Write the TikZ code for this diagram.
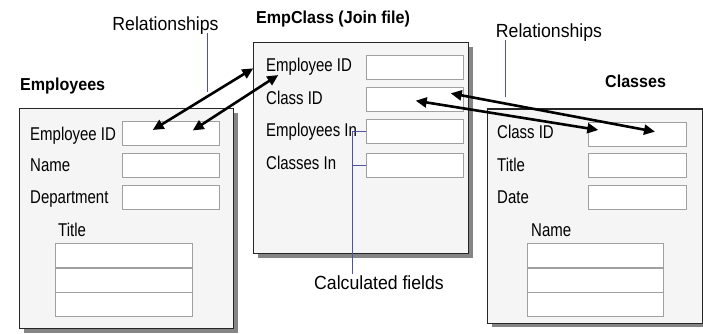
\documentclass[tikz,border=0pt]{standalone}
\usepackage{fontspec}
\setmainfont{Liberation Sans}[FakeStretch=0.81]
\newfontfamily\annfont{Liberation Sans}[FakeStretch=0.93]
\newfontfamily\headfont{Liberation Sans}[FakeStretch=0.93]
\usetikzlibrary{shadows,arrows.meta}
\definecolor{panelfill}{HTML}{F5F5F5}
\definecolor{shadowgray}{HTML}{858585}
\definecolor{fieldline}{HTML}{A0A0A0}
\definecolor{callout}{RGB}{80,80,165}
\begin{document}
\begin{tikzpicture}[x=1pt,y=-1pt,
  panel/.style={draw=black!85,line width=1.1pt,fill=panelfill,anchor=north west,inner sep=0,
    drop shadow={shadow xshift=4pt,shadow yshift=-4pt,fill=shadowgray,opacity=1}},
  field/.style={draw=fieldline,line width=0.9pt,fill=white,anchor=north west,inner sep=0,minimum height=24pt},
  lbl/.style={anchor=base west,inner sep=0,font=\fontsize{18.5}{20}\selectfont},
  head/.style={anchor=base west,inner sep=0,font=\fontsize{17.3}{20}\selectfont\headfont\bfseries},
  ann/.style={anchor=base,inner sep=0,font=\fontsize{19}{20}\selectfont\annfont},
  rel/.style={line width=2.6pt,{Triangle[length=11pt,width=10pt]}-{Triangle[length=11pt,width=10pt]}},
  cline/.style={draw=callout,line width=0.9pt}]
\useasboundingbox (0,0) rectangle (703,334);

% ---------- Employees ----------
\node[head] (emph) at (20,91) {Employees};
\node[panel,minimum width=214pt,minimum height=220pt] (emp) at (19,108) {};
\node[lbl] (l1) at (30,140) {Employee ID};
\node[field,minimum width=97pt] (e1) at (122,121) {};
\node[lbl] (l2) at (30,171.5) {Name};
\node[field,minimum width=97pt] (e2) at (122,153) {};
\node[lbl] (l3) at (30,203.5) {Department};
\node[field,minimum width=97pt] (e3) at (122,185) {};
\node[lbl] (l4) at (58,236) {Title};
\node[field,minimum width=137pt] (t1) at (55,243) {};
\node[field,minimum width=137pt] (t2) at (55,267.5) {};
\node[field,minimum width=137pt] (t3) at (55,291.5) {};

% ---------- EmpClass ----------
\node[head] (jh) at (256,24) {EmpClass (Join file)};
\node[panel,minimum width=215pt,minimum height=211pt] (join) at (253,42) {};
\node[lbl] (j1l) at (266,72) {Employee ID};
\node[field,minimum width=97pt] (j1) at (366,55) {};
\node[lbl] (j2l) at (266,104) {Class ID};
\node[field,minimum width=97pt] (j2) at (366,87) {};
\node[lbl] (j3l) at (266,136) {Employees In};
\node[field,minimum width=97pt] (j3) at (366,119) {};
\node[lbl] (j4l) at (266,169) {Classes In};
\node[field,minimum width=97pt] (j4) at (366,153) {};

% ---------- Classes ----------
\node[head] (ch) at (605,87.5) {Classes};
\node[panel,minimum width=215pt,minimum height=214pt] (cls) at (487,108.5) {};
\node[lbl] (c1l) at (497,138.5) {Class ID};
\node[field,minimum width=98pt] (c1) at (588,122) {};
\node[lbl] (c2l) at (497,171.5) {Title};
\node[field,minimum width=98pt] (c2) at (588,153) {};
\node[lbl] (c3l) at (497,203) {Date};
\node[field,minimum width=98pt] (c3) at (588,185) {};
\node[lbl] (c4l) at (531,236) {Name};
\node[field,minimum width=136pt] (n1) at (527,243) {};
\node[field,minimum width=136pt] (n2) at (527,267.5) {};
\node[field,minimum width=136pt] (n3) at (527,291.5) {};

% ---------- annotations ----------
\node[ann] (relL) at (165.5,31) {Relationships};
\node[ann] (relR) at (549,37.5) {Relationships};
\node[ann] (calc) at (379,289.5) {Calculated fields};
\coordinate (relLa) at (207,33);
\coordinate (relLb) at (207,92);
\coordinate (relRa) at (505,40);
\coordinate (relRb) at (505,97);
\draw[cline] (relLa) -- (relLb);
\draw[cline] (relRa) -- (relRb);
\coordinate (cf) at (352,274);
\draw[cline] (cf) |- (j3.west);
\draw[cline] (j4.west) -- (j4.west -| cf);

% ---------- relationship arrows ----------
\coordinate (a1s) at (152.7,130);
\coordinate (a1e) at (253.3,68.3);
\coordinate (a2s) at (192.7,130.5);
\coordinate (a2e) at (278.3,75);
\coordinate (a3s) at (450.7,93.3);
\coordinate (a3e) at (655,131.7);
\coordinate (a4s) at (415.7,100.7);
\coordinate (a4e) at (598.3,130);
\draw[rel] (a1s) -- (a1e);
\draw[rel] (a2s) -- (a2e);
\draw[rel] (a3s) -- (a3e);
\draw[rel] (a4s) -- (a4e);
\end{tikzpicture}
\end{document}
